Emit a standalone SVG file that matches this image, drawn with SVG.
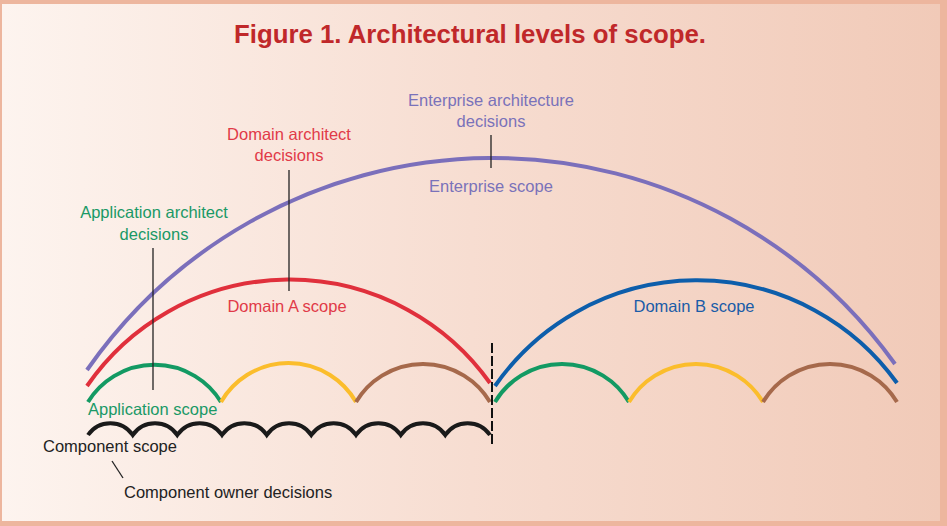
<svg xmlns="http://www.w3.org/2000/svg" width="947" height="526" viewBox="0 0 947 526">
<defs>
<linearGradient id="bg" x1="0" y1="0" x2="1" y2="0">
<stop offset="0" stop-color="#fdf4ef"/>
<stop offset="0.5" stop-color="#f7ddd1"/>
<stop offset="1" stop-color="#f1cab8"/>
</linearGradient>
<style>
.t{font-family:"Liberation Sans",Arial,sans-serif;font-size:16.5px}
.arc{fill:none;stroke-width:4;stroke-linecap:butt}
.lead{stroke:#222;stroke-width:1.3;fill:none}
.pu{fill:#7a72ba}.re{fill:#e13a48}.gr{fill:#1a9966}.bl{fill:#1a5ca8}.bk{fill:#222}
</style>
</defs>
<rect x="0" y="0" width="947" height="526" fill="#edb69e"/>
<rect x="2" y="4" width="938" height="517" fill="url(#bg)"/>
<text x="470" y="43" text-anchor="middle" font-family="Liberation Sans,Arial,sans-serif" font-weight="bold" font-size="25" fill="#c0282a" textLength="472" lengthAdjust="spacingAndGlyphs">Figure 1. Architectural levels of scope.</text>

<g id="enterprise">
<path class="arc" stroke="#7b6fbb" d="M87 370 A495 495 0 0 1 895 364"/>
<text class="t pu" x="491" y="106" text-anchor="middle">Enterprise architecture</text>
<text class="t pu" x="491" y="127" text-anchor="middle">decisions</text>
<text class="t pu" x="491" y="192" text-anchor="middle">Enterprise scope</text>
</g>
<g id="domainA">
<path class="arc" stroke="#e0303c" d="M87 386 A246 246 0 0 1 490 383"/>
<text class="t re" x="289" y="140" text-anchor="middle">Domain architect</text>
<text class="t re" x="289" y="161" text-anchor="middle">decisions</text>
<text class="t re" x="287" y="312" text-anchor="middle">Domain A scope</text>
</g>
<g id="domainB">
<path class="arc" stroke="#0d5eab" d="M495 386 A246 246 0 0 1 897 383"/>
<text class="t bl" x="694" y="312" text-anchor="middle">Domain B scope</text>
</g>
<g id="applications">
<path class="arc" stroke="#139a63" d="M88 402 A78 78 0 0 1 221 402"/>
<path class="arc" stroke="#fbbd2c" d="M221 402 A78 78 0 0 1 356 402"/>
<path class="arc" stroke="#a6694b" d="M356 402 A78 78 0 0 1 490 402"/>
<path class="arc" stroke="#139a63" d="M495 402 A78 78 0 0 1 629 402"/>
<path class="arc" stroke="#fbbd2c" d="M629 402 A78 78 0 0 1 763 402"/>
<path class="arc" stroke="#a6694b" d="M763 402 A78 78 0 0 1 897 402"/>
<text class="t gr" x="154" y="218" text-anchor="middle">Application architect</text>
<text class="t gr" x="154" y="240" text-anchor="middle">decisions</text>
<text class="t gr" x="88" y="415">Application scope</text>
</g>
<g id="components">
<path class="arc" stroke="#1a1a1a" stroke-width="4.5" d="M88 435 A27 27 0 0 1 132.7 435 A27 27 0 0 1 177.3 435 A27 27 0 0 1 222 435 A27 27 0 0 1 266.7 435 A27 27 0 0 1 311.3 435 A27 27 0 0 1 356 435 A27 27 0 0 1 400.7 435 A27 27 0 0 1 445.3 435 A27 27 0 0 1 490 435"/>
<text class="t bk" x="43" y="452">Component scope</text>
<text class="t bk" x="124" y="498">Component owner decisions</text>
</g>
<g id="connectors">
<line class="lead" x1="491" y1="135" x2="491" y2="168"/>
<line class="lead" x1="289" y1="170" x2="289" y2="291"/>
<line class="lead" x1="153" y1="248" x2="153" y2="390"/>
<line class="lead" x1="112" y1="461" x2="123" y2="478"/>
<line x1="492" y1="343" x2="492" y2="444" stroke="#111" stroke-width="2" stroke-dasharray="10 3"/>
</g>
</svg>
